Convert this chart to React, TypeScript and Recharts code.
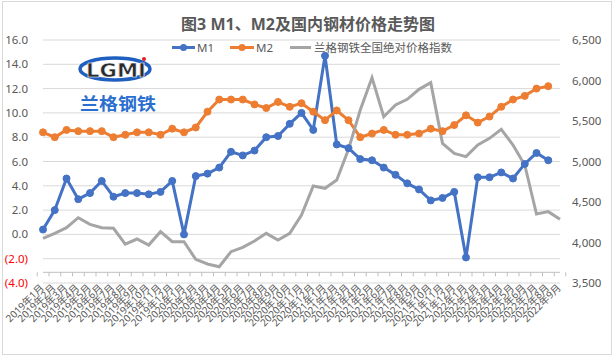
import React from 'react';
import { LineChart, Line, XAxis, YAxis, CartesianGrid, ReferenceLine } from 'recharts';

const months = [
  '2019年1月', '2019年2月', '2019年3月', '2019年4月', '2019年5月', '2019年6月',
  '2019年7月', '2019年8月', '2019年9月', '2019年10月', '2019年11月', '2019年12月',
  '2020年1月', '2020年2月', '2020年3月', '2020年4月', '2020年5月', '2020年6月',
  '2020年7月', '2020年8月', '2020年9月', '2020年10月', '2020年11月', '2020年12月',
  '2021年1月', '2021年2月', '2021年3月', '2021年4月', '2021年5月', '2021年6月',
  '2021年7月', '2021年8月', '2021年9月', '2021年10月', '2021年11月', '2021年12月',
  '2022年1月', '2022年2月', '2022年3月', '2022年4月', '2022年5月', '2022年6月',
  '2022年7月', '2022年8月', '2022年9月',
];

const m1 = [
  0.4, 2.0, 4.6, 2.9, 3.4, 4.4, 3.1, 3.4, 3.4, 3.3, 3.5, 4.4,
  0.0, 4.8, 5.0, 5.5, 6.8, 6.5, 6.9, 8.0, 8.1, 9.1, 10.0, 8.6,
  14.7, 7.4, 7.1, 6.2, 6.1, 5.5, 4.9, 4.2, 3.7, 2.8, 3.0, 3.5,
  -1.9, 4.7, 4.7, 5.1, 4.6, 5.8, 6.7, 6.1,
];

const m2 = [
  8.4, 8.0, 8.6, 8.5, 8.5, 8.5, 8.0, 8.2, 8.4, 8.4, 8.2, 8.7,
  8.4, 8.8, 10.1, 11.1, 11.1, 11.1, 10.7, 10.4, 10.9, 10.5, 10.8, 10.1,
  9.4, 10.2, 9.4, 8.0, 8.3, 8.6, 8.2, 8.2, 8.3, 8.7, 8.5, 9.0,
  9.8, 9.2, 9.7, 10.5, 11.1, 11.4, 12.0, 12.2,
];

const steelIndex = [
  4052, 4113, 4183, 4306, 4224, 4183, 4175, 3981, 4043, 3969, 4134, 4010,
  4010, 3792, 3735, 3701, 3887, 3940, 4019, 4113, 4031, 4113, 4340, 4698,
  4669, 4772, 5150, 5636, 6035, 5553, 5698, 5768, 5891, 5973, 5224, 5101,
  5060, 5204, 5286, 5397, 5204, 4957, 4352, 4381, 4286,
];

const leftTicks = [-4, -2, 0, 2, 4, 6, 8, 10, 12, 14, 16];
const rightTicks = [3500, 4000, 4500, 5000, 5500, 6000, 6500];

const data = months.map((month, i) => ({
  month,
  m1: i < m1.length ? m1[i] : null,
  m2: i < m2.length ? m2[i] : null,
  idx: steelIndex[i],
}));

const W = 616;
const H = 357;
const PLOT_LEFT = 43;
const PLOT_RIGHT = 560;
const STEP = (PLOT_RIGHT - PLOT_LEFT) / months.length;
const FONT = "'Noto Sans', 'Noto Sans CJK SC', sans-serif";
const TEXT = '#595959';
const BLUE = '#4472C4';
const ORANGE = '#ED7D31';
const GRAY = '#A5A5A5';

const LeftTick = (props: any) => {
  const { x, y, payload } = props;
  const v = payload.value as number;
  const neg = v < 0;
  const label = neg ? `(${Math.abs(v).toFixed(1)})` : v.toFixed(1);
  return (
    <text x={x} y={y} dy="0.35em" textAnchor="end" fontSize={11.5} fontFamily={FONT} fill={neg ? '#FF0000' : TEXT}>
      {label}
    </text>
  );
};

const RightTick = (props: any) => {
  const { x, y, payload } = props;
  const v = payload.value as number;
  return (
    <text x={x} y={y} dy="0.35em" textAnchor="start" fontSize={11.5} fontFamily={FONT} fill={TEXT}>
      {v.toLocaleString('en-US')}
    </text>
  );
};

const XTick = (props: any) => {
  const { x, y, payload, index } = props;
  const ax = x - 1;
  const ay = y + 3;
  const axisY = y - 10.7;
  return (
    <g>
      <line x1={x - STEP / 2} x2={x - STEP / 2} y1={axisY} y2={axisY + 4} stroke="#BFBFBF" strokeWidth={1} />
      {index === months.length - 1 && (
        <line x1={x + STEP / 2} x2={x + STEP / 2} y1={axisY} y2={axisY + 4} stroke="#BFBFBF" strokeWidth={1} />
      )}
      <text
        x={ax}
        y={ay}
        dy="0.35em"
        textAnchor="end"
        transform={`rotate(-45 ${ax} ${ay})`}
        fontSize={10}
        fontFamily={FONT}
        fill={TEXT}
      >
        {payload.value}
      </text>
    </g>
  );
};

const Overlay = () => (
  <svg width={W} height={H} style={{ position: 'absolute', left: 0, top: 0, pointerEvents: 'none' }}>
    <rect x={2.5} y={1.5} width={609} height={353} fill="none" stroke="#D9D9D9" />
    <text x={308} y={24} dominantBaseline="central" textAnchor="middle" fontSize={16} fontWeight="bold" fontFamily={FONT} fill={TEXT}>
      图3 M1、M2及国内钢材价格走势图
    </text>
    {/* legend */}
    <g fontFamily={FONT} fontSize={11.5} fill={TEXT}>
      <line x1={172} x2={195} y1={47.5} y2={47.5} stroke={BLUE} strokeWidth={3} />
      <circle cx={183.5} cy={47.5} r={3.5} fill={BLUE} />
      <text x={197} y={47.5} dominantBaseline="central">M1</text>
      <line x1={230} x2={254} y1={47.5} y2={47.5} stroke={ORANGE} strokeWidth={3} />
      <circle cx={242} cy={47.5} r={3.5} fill={ORANGE} />
      <text x={256} y={47.5} dominantBaseline="central">M2</text>
      <line x1={290} x2={311} y1={47.5} y2={47.5} stroke={GRAY} strokeWidth={3} />
      <text x={314} y={47.5} dominantBaseline="central">兰格钢铁全国绝对价格指数</text>
    </g>
    {/* logo */}
    <g>
      <ellipse cx={115} cy={69} rx={35} ry={11} fill="#FFFFFF" stroke="#1F5FBF" strokeWidth={3.5} />
      <text x={116} y={70} dominantBaseline="central" textAnchor="middle" fontSize={20} fontWeight="bold" fontFamily="'DejaVu Sans', sans-serif" fill="#2B2B2B" stroke="#FFFFFF" strokeWidth={0.6} textLength={60} lengthAdjust="spacingAndGlyphs">
        LGMI
      </text>
      <circle cx={144} cy={59} r={2} fill="#E02020" />
      <text x={118} y={102} dominantBaseline="central" textAnchor="middle" fontSize={17} fontWeight="bold" fontFamily="'Noto Sans CJK SC', sans-serif" fill="#2A6FD0" textLength={76} lengthAdjust="spacingAndGlyphs">
        兰格钢铁
      </text>
    </g>
  </svg>
);

export default function App() {
  return (
    <div style={{ position: 'absolute', left: 0, top: 0, width: W, height: H, background: '#FFFFFF', fontFamily: FONT }}>
      <LineChart width={W} height={H} data={data} margin={{ top: 40, right: 0, bottom: 0, left: 0 }}>
        <CartesianGrid yAxisId="left" vertical={false} stroke="#D9D9D9" strokeWidth={1} />
        <XAxis
          dataKey="month"
          interval={0}
          height={74}
          axisLine={false}
          tickLine={false}
          tickSize={0}
          tickMargin={0}
          tick={<XTick />}
        />
        <YAxis
          yAxisId="left"
          orientation="left"
          width={43}
          domain={[-4, 16]}
          ticks={leftTicks}
          axisLine={false}
          tickLine={false}
          tickSize={0}
          tickMargin={15}
          tick={<LeftTick />}
          allowDataOverflow
        />
        <YAxis
          yAxisId="right"
          orientation="right"
          width={56}
          domain={[3500, 6500]}
          ticks={rightTicks}
          axisLine={false}
          tickLine={false}
          tickSize={0}
          tickMargin={12}
          tick={<RightTick />}
          allowDataOverflow
        />
        <ReferenceLine yAxisId="left" y={-3.12} stroke="#BFBFBF" strokeWidth={1} />
        <Line
          yAxisId="left"
          type="linear"
          dataKey="m1"
          stroke={BLUE}
          strokeWidth={3}
          dot={{ r: 3.5, fill: BLUE, stroke: BLUE, strokeWidth: 1 }}
          activeDot={false}
          isAnimationActive={false}
        />
        <Line
          yAxisId="left"
          type="linear"
          dataKey="m2"
          stroke={ORANGE}
          strokeWidth={3}
          dot={{ r: 3.5, fill: ORANGE, stroke: ORANGE, strokeWidth: 1 }}
          activeDot={false}
          isAnimationActive={false}
        />
        <Line
          yAxisId="right"
          type="linear"
          dataKey="idx"
          stroke={GRAY}
          strokeWidth={3}
          dot={false}
          activeDot={false}
          isAnimationActive={false}
        />
      </LineChart>
      <Overlay />
    </div>
  );
}
